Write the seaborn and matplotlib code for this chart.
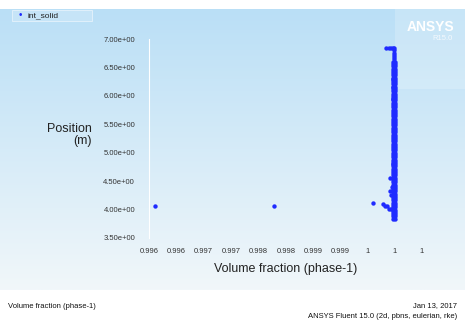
import numpy as np
import pandas as pd
import matplotlib
matplotlib.use("Agg")
import matplotlib.pyplot as plt
import seaborn as sns

sns.set_style("white")
plt.rcParams['font.family'] = ['Liberation Sans', 'DejaVu Sans']

# ---- data ----
# scattered points (volume fraction, position)
scatter_vf = [0.99605, 0.99799, 0.99960, 0.99976, 0.99979, 0.99983, 0.99986, 0.99990,
              0.99988, 0.99990, 0.99988, 0.99991, 0.99992, 0.99992, 0.99992, 0.99992,
              0.99982, 0.99986, 0.99990, 0.99993]
scatter_pos = [4.07, 4.07, 4.12, 4.10, 4.06, 4.06, 4.01, 4.01,
               4.55, 4.25, 4.33, 4.40, 4.80, 5.95, 6.30, 6.15,
               6.84, 6.84, 6.84, 6.84]
# dense column near vf = 1
column_pos = [3.84, 3.88, 3.92, 3.96, 4.00, 4.04, 4.08, 4.12, 4.16, 4.20, 4.24, 4.28,
              4.32, 4.36, 4.40, 4.44, 4.48, 4.52, 4.56, 4.60, 4.64, 4.68, 4.72, 4.76,
              4.80, 4.84, 4.88, 4.92, 4.96, 5.00, 5.04, 5.08, 5.12, 5.16, 5.20, 5.24,
              5.28, 5.32, 5.36, 5.40, 5.44, 5.48, 5.52, 5.56, 5.60, 5.64, 5.68, 5.72,
              5.76, 5.80, 5.84, 5.88, 5.92, 5.96, 6.00, 6.04, 6.08, 6.12, 6.16, 6.20,
              6.24, 6.28, 6.32, 6.36, 6.40, 6.44, 6.48, 6.52, 6.56, 6.60]
column_vf_a = 0.99993
column_vf_b = 0.99996
top_pos = [6.64, 6.68, 6.72, 6.76, 6.80, 6.84]
top_vf = 0.99994

x_ticks = [0.99595, 0.99640, 0.99684, 0.99729, 0.99773, 0.99818, 0.99862, 0.99907,
           0.99951, 0.99996, 1.00040]
x_ticklabels = ["0.996", "0.996", "0.997", "0.997", "0.998", "0.998", "0.999", "0.999",
                "1", "1", "1"]
y_ticks = [3.5, 4.0, 4.5, 5.0, 5.5, 6.0, 6.5, 7.0]
y_ticklabels = ["3.50e+00", "4.00e+00", "4.50e+00", "5.00e+00", "5.50e+00",
                "6.00e+00", "6.50e+00", "7.00e+00"]

vf = (scatter_vf + [column_vf_a] * len(column_pos) + [column_vf_b] * len(column_pos)
      + [top_vf] * len(top_pos))
pos = scatter_pos + column_pos + column_pos + top_pos
df = pd.DataFrame({"vf": vf, "pos": pos, "series": "int_solid"})

W, H = 465, 322
fig = plt.figure(figsize=(W / 100, H / 100), dpi=100)
fig.patch.set_facecolor("white")

# background gradient (row 0 = top)
bg = fig.add_axes([0, (H - 290) / H, 1, 281 / H], zorder=0)
grad = np.linspace(0, 1, 256).reshape(-1, 1)
top_c = np.array([186, 223, 246]) / 255
bot_c = np.array([241, 247, 250]) / 255
img = top_c[None, None, :] * (1 - grad[:, :, None]) + bot_c[None, None, :] * grad[:, :, None]
bg.imshow(img, aspect="auto", extent=[0, 1, 0, 1], origin="upper")
bg.set_xlim(0, 1); bg.set_ylim(0, 1)
bg.axis("off")
# logo box
bg.add_patch(plt.Rectangle((395 / W, 1 - 80 / 281), 70 / W, 80 / 281, color="white",
                           alpha=0.2, lw=0))

ax = fig.add_axes([149 / W, (H - 238) / H, 273 / W, 199 / H], zorder=1)
ax.patch.set_alpha(0)
sns.scatterplot(data=df, x="vf", y="pos", ax=ax, color="#1f2bff", s=10,
                linewidth=0, legend=False)
ax.set_xlim(0.99595, 1.0004)
ax.set_ylim(3.5, 7.0)
ax.set_xticks(x_ticks)
ax.set_xticklabels(x_ticklabels, fontsize=5.5, color="#333333")
ax.set_yticks(y_ticks)
ax.set_yticklabels(y_ticklabels, fontsize=5.5, color="#333333")
ax.tick_params(length=0, pad=7)
ax.tick_params(axis="y", pad=10)
for s in ["top", "right", "bottom"]:
    ax.spines[s].set_visible(False)
ax.spines["left"].set_color("white")
ax.spines["left"].set_linewidth(0.8)
ax.set_xlabel("Volume fraction (phase-1)", fontsize=9, color="#222222", labelpad=6)
ax.set_ylabel("")

fig.text(92 / W, 1 - 135 / H, "Position\n(m)", fontsize=9, color="#222222",
         ha="right", va="center", multialignment="right", linespacing=0.95)

# legend box
fig.patches.append(plt.Rectangle((12 / W, 1 - 21 / H), 80 / W, 11 / H,
                                 transform=fig.transFigure, facecolor="#c6e4f7",
                                 edgecolor="#e6f2fb", lw=0.6, figure=fig, zorder=2))
fig.text(20 / W, 1 - 15.5 / H, "•", color="#1f2bff", fontsize=7, ha="center", va="center")
fig.text(27 / W, 1 - 15.5 / H, "int_solid", color="#222222", fontsize=6, va="center")

# logo
fig.text(430 / W, 1 - 27 / H, "ANSYS", color="white", fontsize=10, fontweight="bold",
         ha="center", va="center")
fig.text(442 / W, 1 - 39 / H, "R15.0", color="#f4f9fd", fontsize=5.5, ha="center", va="center")

# footer
fig.text(8 / W, 1 - 306 / H, "Volume fraction (phase-1)", fontsize=5.5, color="#111111", va="center")
fig.text(457 / W, 1 - 306 / H, "Jan 13, 2017", fontsize=5.5, color="#111111", va="center", ha="right")
fig.text(457 / W, 1 - 316 / H, "ANSYS Fluent 15.0 (2d, pbns, eulerian, rke)", fontsize=5.5,
         color="#111111", va="center", ha="right")

fig.savefig("out.png", dpi=100)
